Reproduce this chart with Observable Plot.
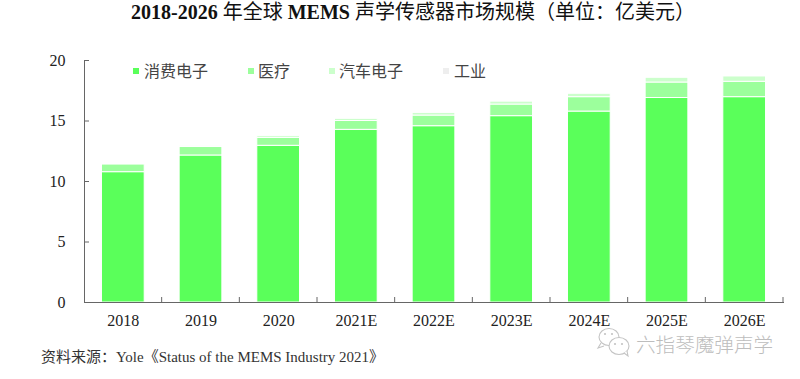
<!DOCTYPE html>
<html><head><meta charset="utf-8">
<script src="https://cdn.jsdelivr.net/npm/d3@7"></script>
<script src="https://cdn.jsdelivr.net/npm/@observablehq/plot@0.6"></script>
<style>
html,body{margin:0;padding:0;background:#fff;width:800px;height:379px;overflow:hidden}
#c{position:relative;width:800px;height:379px}
svg{position:absolute;left:0;top:0;overflow:visible}
.t{position:absolute;white-space:nowrap;font-family:'Liberation Serif','Noto Sans CJK SC',serif}
#title{left:131px;top:0;font-size:20px;line-height:24px;color:#111;font-weight:400}
#title b{font-weight:700}
#source{left:41px;top:348px;font-size:15px;line-height:18px;color:#333}
#wm{left:636px;top:331px;font-size:19.6px;line-height:26px;color:#bdbdbd;font-family:'Noto Sans CJK SC',sans-serif;font-weight:300}
</style></head><body><div id="c">
<div class="t" id="title"><b>2018-2026</b> 年全球 <b>MEMS</b> 声学传感器市场规模（单位：亿美元）</div>
<div class="t" id="source"></div>
<div class="t" id="wm"></div>
</div>
<script>
const years=["2018","2019","2020","2021E","2022E","2023E","2024E","2025E","2026E"];
const seriesNames=["消费电子","医疗","汽车电子","工业"];
const seriesColors=["#5aff5a","#9cff9c","#ccffcc","#eeeeee"];
const consumer=[10.77,12.15,12.95,14.27,14.57,15.4,15.78,16.9,16.97];
const medical=[0.63,0.7,0.65,0.73,0.88,0.96,1.19,1.28,1.27];
const auto=[0,0.05,0.15,0.18,0.22,0.24,0.28,0.39,0.44];
const industrial=[0,0,0,0,0,0,0,0,0];
const source="资料来源：Yole《Status of the MEMS Industry 2021》";
const watermark="六指琴魔弹声学";
const yTicks=[0,5,10,15,20];
const serif="'Liberation Serif','Noto Sans CJK SC',serif";
const cols=[consumer,medical,auto,industrial];
const rows=years.flatMap((y,i)=>seriesNames.map((s,j)=>({year:y,series:s,value:cols[j][i]}))).filter(d=>d.value>0);
document.getElementById("source").textContent=source;
document.getElementById("wm").textContent=watermark;
const plot=Plot.plot({
  width:800,height:379,
  marginLeft:84,marginRight:17,marginTop:60,marginBottom:77,
  style:{background:"transparent",fontFamily:serif,color:"#222"},
  x:{domain:years,paddingInner:0.45,paddingOuter:0.225,align:0.5,round:false,label:null},
  y:{domain:[0,20],label:null},
  color:{domain:seriesNames,range:seriesColors},
  marks:[
    Plot.barY(rows,Plot.stackY({x:"year",y:"value",fill:"series",order:seriesNames,stroke:"#fff",strokeWidth:1})),
    Plot.axisY({ticks:yTicks,tickSize:-5,tickPadding:24,fontSize:16,stroke:"#666",label:null,color:"#222"}),
    Plot.axisX({tickSize:0,tickPadding:12,fontSize:16,label:null}),
    Plot.frame({anchor:"left",stroke:"#666"}),
    Plot.frame({anchor:"bottom",stroke:"#666"})
  ]
});
document.getElementById("c").prepend(plot);
const svg=d3.select(plot);
const sx=plot.scale("x"),sy=plot.scale("y");
const x0=sx.range[0],step=sx.step;
// tick marks between the bands, on the category axis
const tg=svg.append("g").attr("stroke","#666").attr("stroke-width",1).attr("fill","none");
d3.range(1,years.length+1).forEach(i=>tg.append("path").attr("d",`M${x0+i*step},${sy.apply(0)}v-5`));
// legend
const legendItems=[[133,144],[248,258],[329,339],[443,454]];
const lg=svg.append("g").attr("font-family","'Noto Sans CJK SC',sans-serif").attr("font-size",16).attr("fill","#444").attr("text-anchor","start");
seriesNames.forEach((s,i)=>{
  lg.append("rect").attr("x",legendItems[i][0]).attr("y",68).attr("width",6).attr("height",6).attr("fill",seriesColors[i]);
  lg.append("text").attr("x",legendItems[i][1]).attr("y",77).text(s);
});
// watermark icon
const ic=svg.append("g").attr("fill","#fff").attr("stroke","#c4c4c4").attr("stroke-width",1.1);
ic.append("ellipse").attr("cx",609).attr("cy",337).attr("rx",10).attr("ry",8.5);
ic.append("ellipse").attr("cx",619).attr("cy",346).attr("rx",10).attr("ry",8.5);
ic.append("path").attr("d","M601,343l-3,5l6,-2M624,353l4,3l-1,-5");
const ey=svg.append("g").attr("fill","#c4c4c4");
[[605,334],[612,334],[615,344],[622,344]].forEach(p=>ey.append("circle").attr("cx",p[0]).attr("cy",p[1]).attr("r",1.1));
</script></body></html>
